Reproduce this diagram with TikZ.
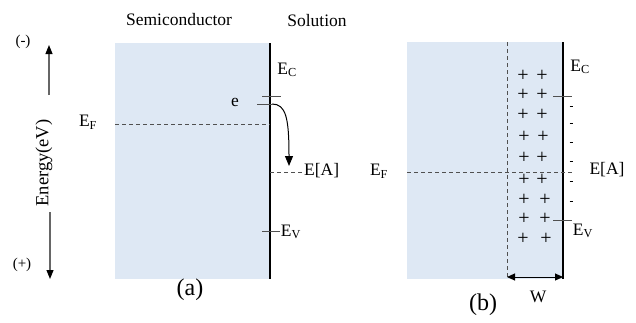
\documentclass[tikz,border=0pt]{standalone}
\usepackage{fontspec}
\setmainfont{Liberation Serif}
\usetikzlibrary{arrows.meta}
\definecolor{semfill}{RGB}{222,232,244}
\definecolor{tickgray}{RGB}{80,80,80}
\tikzset{
  lbl/.style={inner sep=0pt, font=\fontsize{17.5}{19}\selectfont},
  small/.style={inner sep=0pt, font=\fontsize{15}{17}\selectfont},
  big/.style={inner sep=0pt, font=\fontsize{24}{26}\selectfont},
  boundary/.style={line width=1.8pt, black},
  leveltick/.style={line width=0.9pt, tickgray},
  dashline/.style={line width=1pt, tickgray, dash pattern=on 4pt off 3pt},
  axisarrow/.style={line width=1.1pt, gray!80!black, -{Triangle[length=9pt,width=7pt,color=black]}},
  pluslbl/.style={inner sep=0pt, font=\fontsize{20}{22}\selectfont},
}
\begin{document}
\begin{tikzpicture}[x=1pt,y=-1pt]
\useasboundingbox (0,0) rectangle (636,322);
% ---------- panel (a) ----------
\fill[semfill] (115,43) rectangle (270,279);
\coordinate (atop) at (270,43);
\coordinate (abot) at (270,279);
\draw[boundary] (atop) -- (abot);
% headers
\node[lbl] (semi) at (179,20) {Semiconductor};
\node[lbl] (sol) at (317,21) {Solution};
% energy axis
\coordinate (up0) at (49,95);
\coordinate (up1) at (49,45);
\coordinate (dn0) at (50,212);
\coordinate (dn1) at (50,279);
\draw[axisarrow] (up0) -- (up1);
\draw[axisarrow] (dn0) -- (dn1);
\node[inner sep=0pt, font=\fontsize{18.5}{20}\selectfont, rotate=90] (energy) at (44,163) {Energy(eV)};
\node[small] (minus) at (23,42) {(-)};
\node[small] (plus) at (22,265) {(+)};
% EC
\coordinate (ec0) at (262,96);
\coordinate (ec1) at (281,96);
\draw[leveltick] (ec0) -- (ec1);
\node[lbl] (ECa) at (287,70) {E\textsubscript{C}};
% e level and transfer arrow
\coordinate (e0) at (257,104);
\coordinate (e1) at (272,104);
\coordinate (etip) at (289,166);
\draw[leveltick] (e0) -- (e1);
\draw[line width=1pt, -{Triangle[length=10pt,width=8pt]}] (e1) .. controls (286,104) and (289,118) .. (etip);
\node[lbl] (elab) at (235,102) {e};
% EF
\coordinate (efa0) at (115,124);
\coordinate (efa1) at (270,124);
\draw[dashline] (efa0) -- (efa1);
\node[lbl] (EFa) at (88,122) {E\textsubscript{F}};
% E[A]
\coordinate (ea0) at (270,172);
\coordinate (ea1) at (302,172);
\draw[dashline] (ea0) -- (ea1);
\node[lbl, anchor=west] (EAa) at (304,171) {E[A]};
% EV
\coordinate (ev0) at (262,231);
\coordinate (ev1) at (280,231);
\draw[leveltick] (ev0) -- (ev1);
\node[lbl] (EVa) at (291,232) {E\textsubscript{V}};
\node[big] (alab) at (190,290) {(a)};
% ---------- panel (b) ----------
\fill[semfill] (407,42) rectangle (563,279);
\coordinate (btop) at (563,42);
\coordinate (bbot) at (563,279);
\draw[boundary] (btop) -- (bbot);
\coordinate (wtop) at (507,42);
\coordinate (wbot) at (507,279);
\draw[dashline] (wtop) -- (wbot);
\coordinate (efb0) at (407,172);
\coordinate (efb1) at (573,172);
\draw[dashline] (efb0) -- (efb1);
\node[lbl] (EFb) at (379,171) {E\textsubscript{F}};
\node[lbl] (EAb) at (607,170) {E[A]};
\coordinate (ecb0) at (553,96);
\coordinate (ecb1) at (572,96);
\draw[leveltick] (ecb0) -- (ecb1);
\node[lbl] (ECb) at (580,67) {E\textsubscript{C}};
\coordinate (evb0) at (553,220);
\coordinate (evb1) at (572,220);
\draw[leveltick] (evb0) -- (evb1);
\node[lbl] (EVb) at (583,231) {E\textsubscript{V}};
% plus charges
\foreach \xa/\xb/\yy [count=\i] in {523/542/76, 523/542/95, 523/542/115, 524/543/137, 524/542/158, 524/542/180, 524/545/200, 524/545/219, 523/546/239}{
  \node[pluslbl] (pa\i) at (\xa,\yy) {+};
  \node[pluslbl] (pb\i) at (\xb,\yy) {+};
}
% minus charges
\foreach \yy [count=\i] in {106,123,142,161,181,201}{
  \draw[line width=0.9pt] (569.5,\yy) -- (573,\yy);
}
% W
\coordinate (w0) at (507,277);
\coordinate (w1) at (563,277);
\draw[line width=1pt, {Triangle[length=8pt,width=7pt]}-{Triangle[length=8pt,width=7pt]}] (w0) -- (w1);
\node[lbl] (Wlab) at (538,297) {W};
\node[big] (blab) at (483,305) {(b)};
\end{tikzpicture}
\end{document}
